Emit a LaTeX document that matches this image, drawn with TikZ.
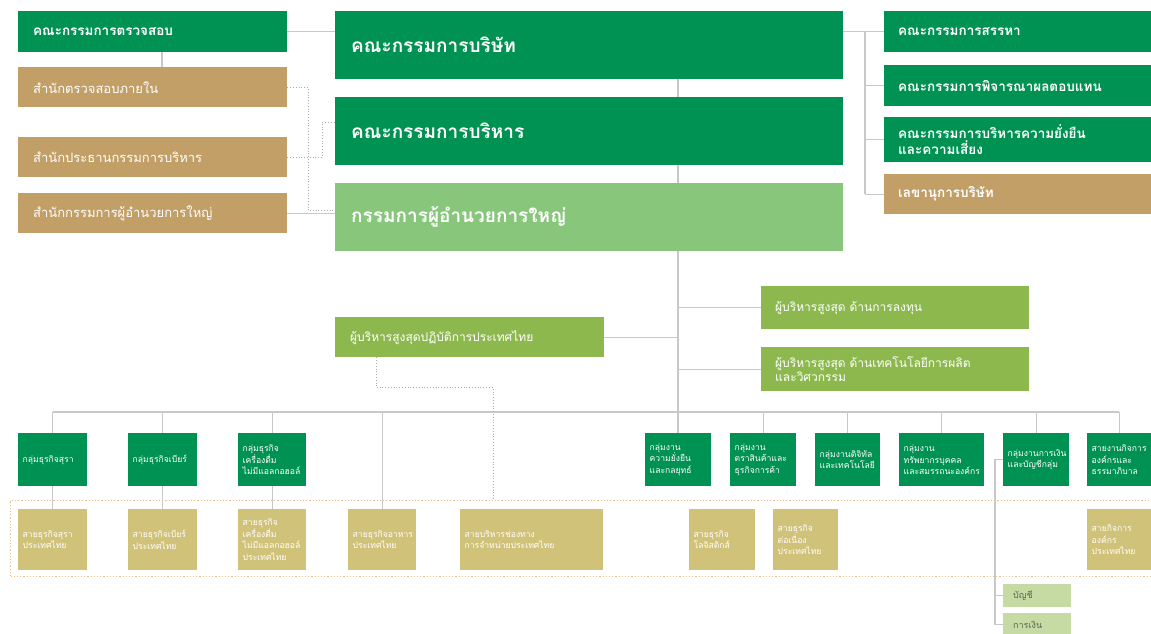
\documentclass[tikz,border=0pt]{standalone}
\usepackage{fontspec}
\setmainfont[Script=Thai]{Loma}
\usetikzlibrary{backgrounds,calc}
\definecolor{dg}{RGB}{0,146,82}
\definecolor{tanc}{RGB}{193,159,102}
\definecolor{lgc}{RGB}{136,199,123}
\definecolor{olv}{RGB}{141,184,78}
\definecolor{sand}{RGB}{209,194,121}
\definecolor{pale}{RGB}{198,218,163}
\definecolor{conn}{RGB}{200,200,200}
\definecolor{frm}{RGB}{232,190,140}
\tikzset{
  bx/.style={anchor=north west, inner ysep=0pt, align=left, text=white},
  bigbox/.style={bx, inner xsep=16pt, font=\fontsize{19}{22}\selectfont\bfseries},
  midbox/.style={bx, inner xsep=15pt, font=\fontsize{13.5}{16}\selectfont\bfseries},
  offbox/.style={bx, inner xsep=15pt, font=\fontsize{13}{15}\selectfont},
  olvbox/.style={bx, fill=olv, inner xsep=14pt, font=\fontsize{12}{14}\selectfont},
  smallbox/.style={bx, inner xsep=4.5pt, font=\fontsize{8.6}{11.5}\selectfont},
  subbox/.style={bx, fill=pale, text={rgb,255:red,90;green,100;blue,80}, inner xsep=10pt, font=\fontsize{9}{11}\selectfont},
  cn/.style={draw=conn, line width=1.3pt},
  dl/.style={draw=conn!85!black, line width=0.8pt, dotted},
  framebox/.style={draw=frm, line width=1.2pt, dotted, anchor=north west, inner sep=0pt}
}
\begin{document}
\begin{tikzpicture}[x=1pt,y=-1pt]
\useasboundingbox (0,0) rectangle (1151,634);
% top left
\node[midbox, fill=dg, text width=239pt, minimum height=41pt] (aud) at (18,11) {คณะกรรมการตรวจสอบ};
\node[offbox, fill=tanc, text width=239pt, minimum height=40pt] (ia) at (18,67) {สำนักตรวจสอบภายใน};
\node[offbox, fill=tanc, text width=239pt, minimum height=40pt] (oce) at (18,137) {สำนักประธานกรรมการบริหาร};
\node[offbox, fill=tanc, text width=239pt, minimum height=40pt] (opc) at (18,193) {สำนักกรรมการผู้อำนวยการใหญ่};
% center
\node[bigbox, fill=dg, text width=476pt, minimum height=68pt] (bod) at (335,11) {คณะกรรมการบริษัท};
\node[bigbox, fill=dg, text width=476pt, minimum height=68pt] (exc) at (335,97) {คณะกรรมการบริหาร};
\node[bigbox, fill=lgc, text width=476pt, minimum height=68pt] (ceo) at (335,183) {กรรมการผู้อำนวยการใหญ่};
% right
\node[midbox, inner xsep=14pt, fill=dg, text width=239pt, minimum height=41pt] (nom) at (884,11) {คณะกรรมการสรรหา};
\node[midbox, inner xsep=14pt, fill=dg, text width=239pt, minimum height=41pt] (rem) at (884,65) {คณะกรรมการพิจารณาผลตอบแทน};
\node[midbox, inner xsep=14pt, fill=dg, text width=239pt, minimum height=45pt] (srm) at (884,117) {คณะกรรมการบริหารความยั่งยืน\\และความเสี่ยง};
\node[midbox, inner xsep=14pt, fill=tanc, text width=239pt, minimum height=40pt] (sec) at (884,174) {เลขานุการบริษัท};
% middle
\node[olvbox, text width=240pt, minimum height=43pt] (inv) at (761,286) {ผู้บริหารสูงสุด ด้านการลงทุน};
\node[olvbox, text width=240pt, minimum height=44pt] (tec) at (761,347) {ผู้บริหารสูงสุด ด้านเทคโนโลยีการผลิต\\และวิศวกรรม};
\node[olvbox, inner xsep=15pt, text width=239pt, minimum height=40pt] (tha) at (335,317) {ผู้บริหารสูงสุดปฏิบัติการประเทศไทย};
% frame
\node[framebox, minimum width=1160pt, minimum height=76pt] (frame) at (10,500) {};
% green group boxes
\node[smallbox, fill=dg, text width=60pt, minimum height=53pt] (g1) at (18,433) {กลุ่มธุรกิจสุรา};
\node[smallbox, fill=dg, text width=60pt, minimum height=53pt] (g2) at (128,433) {กลุ่มธุรกิจเบียร์};
\node[smallbox, fill=dg, text width=59pt, minimum height=53pt] (g3) at (238,433) {กลุ่มธุรกิจ\\เครื่องดื่ม\\ไม่มีแอลกอฮอล์};
\node[smallbox, fill=dg, text width=57pt, minimum height=53pt] (g4) at (645,433) {กลุ่มงาน\\ความยั่งยืน\\และกลยุทธ์};
\node[smallbox, fill=dg, text width=57pt, minimum height=53pt] (g5) at (730,433) {กลุ่มงาน\\ตราสินค้าและ\\ธุรกิจการค้า};
\node[smallbox, fill=dg, text width=56pt, minimum height=53pt] (g6) at (815,433) {กลุ่มงานดิจิทัล\\และเทคโนโลยี};
\node[smallbox, fill=dg, text width=76pt, minimum height=53pt] (g7) at (899,433) {กลุ่มงาน\\ทรัพยากรบุคคล\\และสมรรถนะองค์กร};
\node[smallbox, fill=dg, text width=57pt, minimum height=53pt] (g8) at (1003,433) {กลุ่มงานการเงิน\\และบัญชีกลุ่ม};
\node[smallbox, fill=dg, text width=55pt, minimum height=53pt] (g9) at (1087,433) {สายงานกิจการ\\องค์กรและ\\ธรรมาภิบาล};
% sand boxes
\node[smallbox, fill=sand, text width=60pt, minimum height=61pt] (t1) at (18,509) {สายธุรกิจสุรา\\ประเทศไทย};
\node[smallbox, fill=sand, text width=60pt, minimum height=61pt] (t2) at (128,509) {สายธุรกิจเบียร์\\ประเทศไทย};
\node[smallbox, fill=sand, text width=59pt, minimum height=61pt] (t3) at (238,509) {สายธุรกิจ\\เครื่องดื่ม\\ไม่มีแอลกอฮอล์\\ประเทศไทย};
\node[smallbox, fill=sand, text width=59pt, minimum height=61pt] (t4) at (348,509) {สายธุรกิจอาหาร\\ประเทศไทย};
\node[smallbox, fill=sand, text width=134pt, minimum height=61pt] (t5) at (460,509) {สายบริหารช่องทาง\\การจำหน่ายประเทศไทย};
\node[smallbox, fill=sand, text width=57pt, minimum height=61pt] (t6) at (689,509) {สายธุรกิจ\\โลจิสติกส์};
\node[smallbox, fill=sand, text width=56pt, minimum height=61pt] (t7) at (773,509) {สายธุรกิจ\\ต่อเนื่อง\\ประเทศไทย};
\node[smallbox, fill=sand, text width=55pt, minimum height=61pt] (t8) at (1087,509) {สายกิจการ\\องค์กร\\ประเทศไทย};
% finance sub
\node[subbox, text width=48pt, minimum height=23pt] (acc) at (1003,584) {บัญชี};
\node[subbox, text width=48pt, minimum height=23pt] (fin) at (1003,613) {การเงิน};
% coordinates
\coordinate (bus) at (0,412);
\coordinate (trk) at (678,0);
\coordinate (rv) at (865,0);
\coordinate (fv) at (995,0);
\begin{scope}[on background layer]
% top left
\draw[cn] (aud.east) -- (aud.east -| bod.west);
\draw[cn] ($(aud.south west)+(144,0)$) -- ($(ia.north west)+(144,0)$);
\draw[cn] (opc.east) -- (opc.east -| ceo.west);
\draw[dl] (ia.east) -- (ia.east -| 308,0) -- ($(ceo.west -| 308,0)+(0,-7)$) -- ($(ceo.west)+(0,-7)$);
\draw[dl] (oce.east) -- (oce.east -| 322,0) -- ($(exc.west -| 322,0)+(0,-9)$) -- ($(exc.west)+(0,-9)$);
% right
\draw[cn] (nom.west) -- (nom.west -| bod.east);
\draw[cn] (nom.west -| rv) -- (sec.west -| rv);
\draw[cn] (rem.west) -- (rem.west -| rv);
\draw[cn] (srm.west) -- (srm.west -| rv);
\draw[cn] (sec.west) -- (sec.west -| rv);
% trunk
\draw[cn] (bod.south -| trk) -- (g4.north -| trk);
\draw[cn] (tha.east) -- (tha.east -| trk);
\draw[cn] (inv.west) -- (inv.west -| trk);
\draw[cn] (tec.west) -- (tec.west -| trk);
% bus
\draw[cn] (g1.north |- bus) -- (g9.north |- bus);
\foreach \g in {g1,g2,g3,g5,g6,g7,g8,g9} \draw[cn] (\g.north |- bus) -- (\g.north);
\draw[cn] (t4.north |- bus) -- (t4.north);
\draw[cn] (g1.south) -- (t1.north);
\draw[cn] (g2.south) -- (t2.north);
\draw[cn] (g3.south) -- (t3.north);
% dotted from Thailand ops
\draw[dl] ($(tha.south west)+(41,0)$) -- ($(tha.south west)+(41,30)$) -- ($(tha.south west)+(158,30)$) -- ($(frame.north west)+(483,0)$);
% finance
\draw[cn] (g8.west) -- (g8.west -| fv) -- (fin.west -| fv) -- (fin.west);
\draw[cn] (acc.west -| fv) -- (acc.west);
\end{scope}
\end{tikzpicture}
\end{document}
